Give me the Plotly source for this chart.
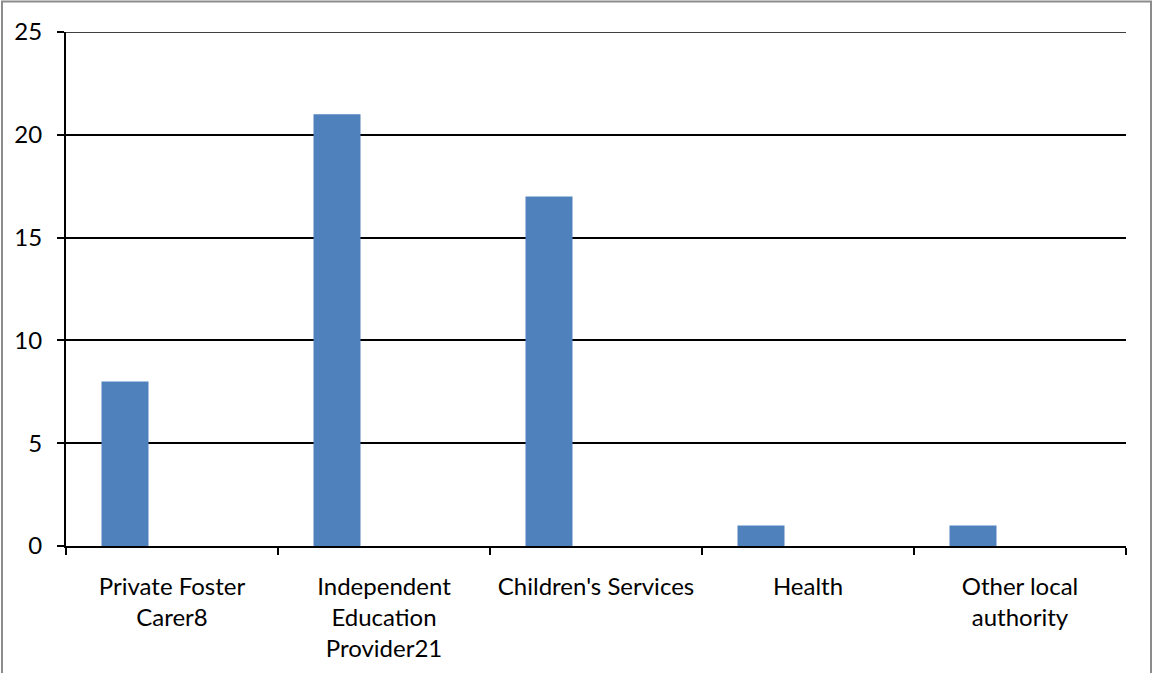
import plotly.graph_objects as go

categories = ["Private Foster Carer8", "Independent Education Provider21",
              "Children's Services", "Health", "Other local authority"]
tick_labels = ["Private Foster<br>Carer8", "Independent<br>Education<br>Provider21",
               "Children's Services", "Health", "Other local<br>authority"]
values = [8, 21, 17, 1, 1]
empty = [None] * len(categories)

W, H = 1154, 673
L, R, T, B = 66, 1126, 32, 546
pw, ph = R - L, B - T

fig = go.Figure()
fig.add_trace(go.Bar(x=categories, y=values, marker_color="#4F81BD", marker_line_width=0, showlegend=False))
fig.add_trace(go.Bar(x=categories, y=empty, showlegend=False))
fig.add_trace(go.Bar(x=categories, y=empty, showlegend=False))

font = dict(family="Lato, Open Sans, sans-serif", size=24, color="black")
fig.update_layout(
    width=W, height=H,
    margin=dict(l=L, r=W - R, t=T, b=H - B),
    paper_bgcolor="white", plot_bgcolor="white",
    barmode="group", bargap=0.335, bargroupgap=0,
    font=font,
    xaxis=dict(type="category", tickvals=categories, ticktext=tick_labels,
               showline=True, linecolor="black", linewidth=2,
               ticks="outside", ticklen=7, tickwidth=1.5, tickcolor="black",
               tickson="boundaries", showgrid=False, ticklabelstandoff=18),
    yaxis=dict(range=[0, 25], dtick=5, showline=True, linecolor="black", linewidth=2,
               ticks="outside", ticklen=7, tickwidth=1.5, tickcolor="black",
               showgrid=True, gridcolor="black", gridwidth=1.5, zeroline=False,
               ticklabelstandoff=10),
    shapes=[dict(type="rect", xref="paper", yref="paper",
                 x0=(2 - L) / pw, x1=(1151 - L) / pw,
                 y0=-(H + 10 - B) / ph, y1=1 + (T - 1.5) / ph,
                 line=dict(color="#8c8c8c", width=2), fillcolor="rgba(0,0,0,0)", layer="below"),
            dict(type="line", xref="paper", yref="y", x0=0, x1=1, y0=25, y1=25,
                 line=dict(color="black", width=1.5))],
)
fig.write_html("out.html")
